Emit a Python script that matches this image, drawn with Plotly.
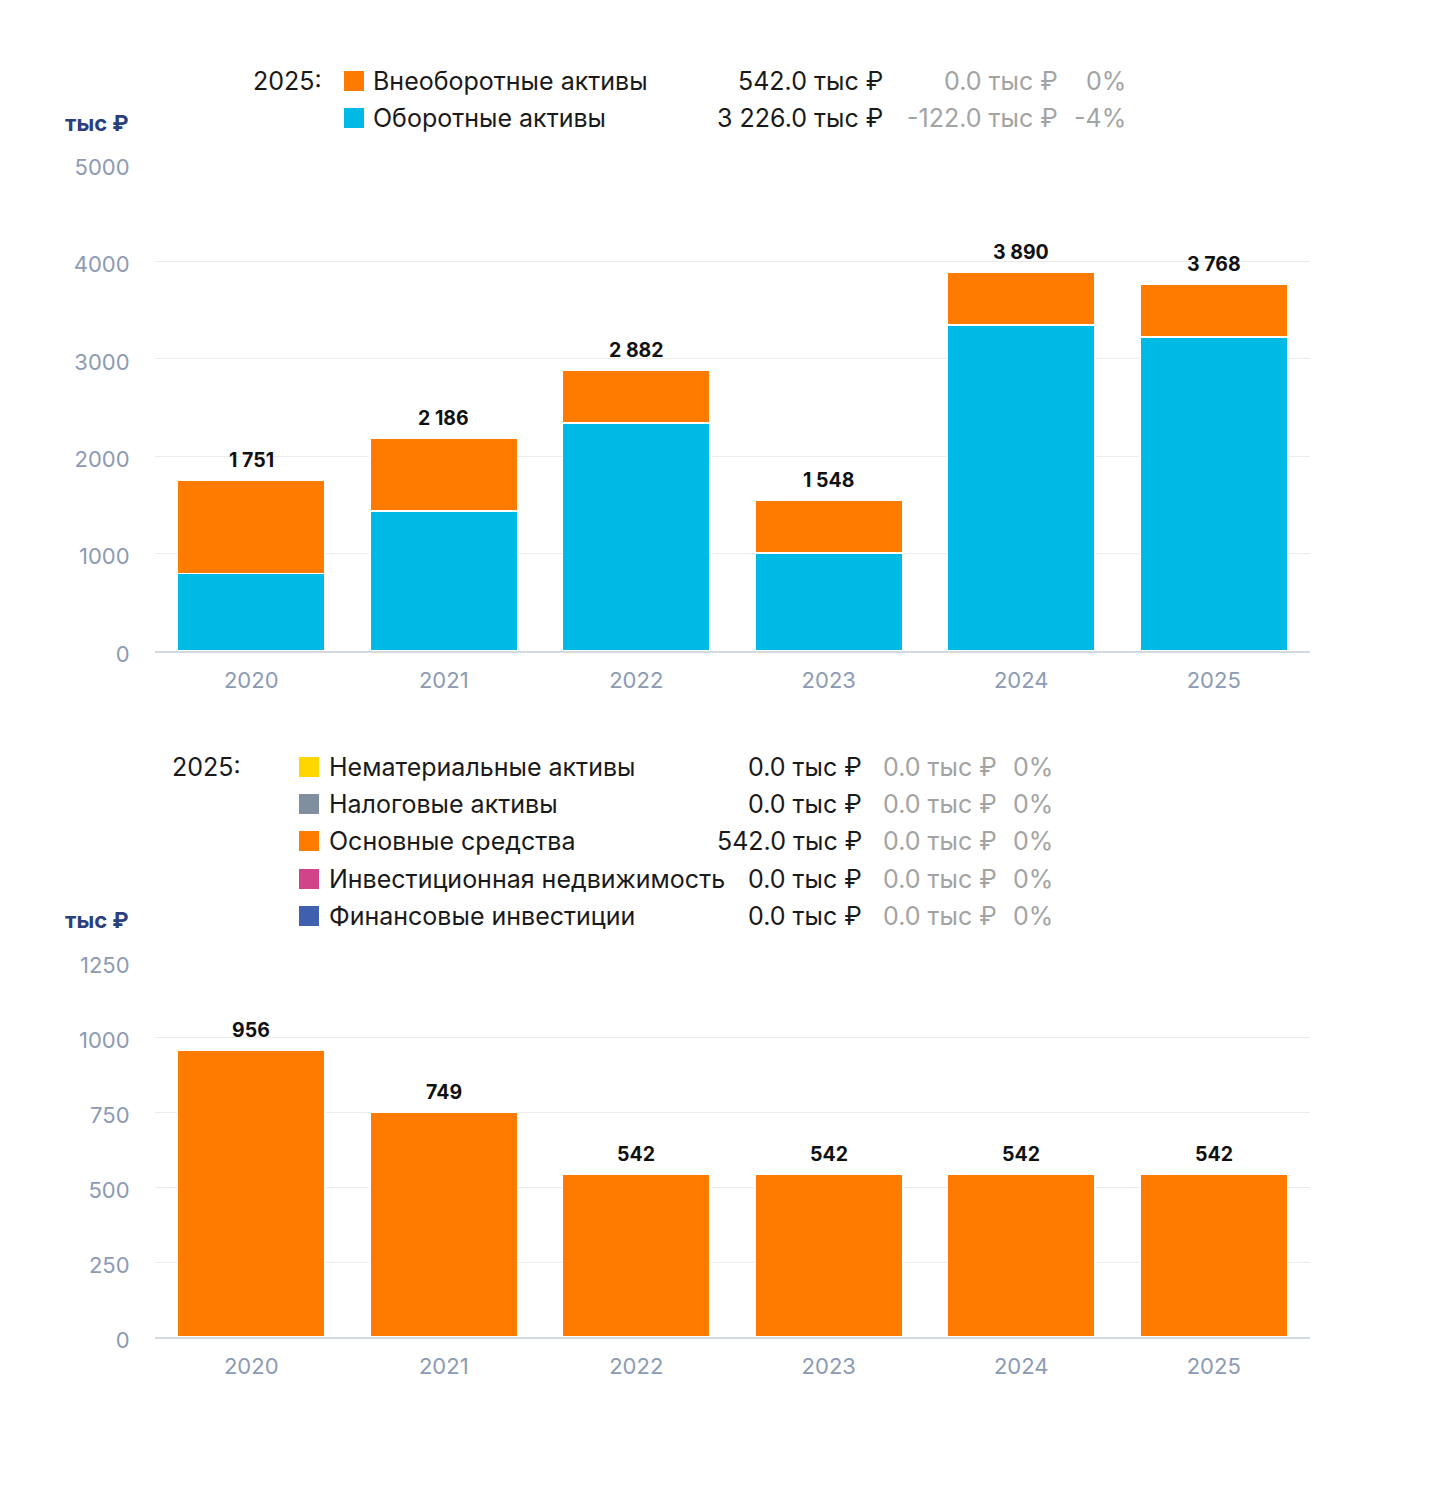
import plotly.graph_objects as go

years = ["2020", "2021", "2022", "2023", "2024", "2025"]

# Top chart: balance-sheet assets (тыс ₽)
current_assets = [795, 1437, 2340, 1006, 3348, 3226]
noncurrent_assets = [956, 749, 542, 542, 542, 542]
top_names = ["Внеоборотные активы", "Оборотные активы"]
top_colors = ["#FF7B00", "#00BAE6"]

# Bottom chart: non-current assets breakdown (тыс ₽)
intangible = [0, 0, 0, 0, 0, 0]
tax_assets = [0, 0, 0, 0, 0, 0]
fixed_assets = [956, 749, 542, 542, 542, 542]
inv_property = [0, 0, 0, 0, 0, 0]
fin_invest = [0, 0, 0, 0, 0, 0]
bottom_names = ["Нематериальные активы", "Налоговые активы", "Основные средства",
                "Инвестиционная недвижимость", "Финансовые инвестиции"]
bottom_colors = ["#FFD600", "#7F8FA0", "#FF7B00", "#D2448A", "#3F5FAF"]

W, H = 1446, 1500
FONT = "Inter"
TICK_COLOR = "#8C9AB4"
GRID = "#EBEBEB"
xpos = list(range(len(years)))


def px(x):
    return x / W


def py(y):
    return 1 - y / H


def fmt_int(v):
    return f"{v:,.0f}".replace(",", " ")


def fmt_val(v):
    return f"{v:,.1f}".replace(",", " ") + " тыс ₽"


def pct(cur, prev):
    if prev == 0:
        return "0%"
    return f"{round((cur - prev) / prev * 100):.0f}%"


fig = go.Figure()

BAR_W = 0.764

# Top stacked bars (current on bottom, non-current on top)
fig.add_trace(go.Bar(x=xpos, y=current_assets, name=top_names[1], width=BAR_W,
                     marker=dict(color=top_colors[1], line=dict(color="white", width=1.5)),
                     xaxis="x", yaxis="y", hoverinfo="skip"))
fig.add_trace(go.Bar(x=xpos, y=noncurrent_assets, name=top_names[0], width=BAR_W,
                     marker=dict(color=top_colors[0], line=dict(color="white", width=1.5)),
                     xaxis="x", yaxis="y", hoverinfo="skip"))

bottom_series = [intangible, tax_assets, fixed_assets, inv_property, fin_invest]
for name, col, vals in zip(bottom_names, bottom_colors, bottom_series):
    fig.add_trace(go.Bar(x=xpos, y=vals, name=name, width=BAR_W,
                         marker=dict(color=col, line=dict(color="white", width=1.5)),
                         xaxis="x2", yaxis="y2", hoverinfo="skip"))

annotations = []
shapes = []
ANN = dict(showarrow=False, borderpad=0, borderwidth=0)

# Totals above bars
top_totals = [a + b for a, b in zip(current_assets, noncurrent_assets)]
for xi, t in zip(xpos, top_totals):
    annotations.append(dict(x=xi, y=t, xref="x", yref="y", text=f"<b>{fmt_int(t)}</b>",
                            yanchor="bottom", yshift=8,
                            font=dict(family=FONT, size=19.5, color="#111111"), **ANN))
bottom_totals = [sum(v) for v in zip(*bottom_series)]
for xi, t in zip(xpos, bottom_totals):
    annotations.append(dict(x=xi, y=t, xref="x2", yref="y2", text=f"<b>{fmt_int(t)}</b>",
                            yanchor="bottom", yshift=8,
                            font=dict(family=FONT, size=19.5, color="#111111"), **ANN))

# Axis unit labels
for yy in (123, 920):
    annotations.append(dict(x=px(129), y=py(yy), xref="paper", yref="paper",
                            text="<b>тыс ₽</b>", xanchor="right", yanchor="middle",
                            font=dict(family=FONT, size=22, color="#2B3F7E"), **ANN))

LEG_SIZE = 25


def legend_block(label_x_year, sq_x, lbl_x, val_x, dlt_x, pct_x, rows_y, names, colors, series):
    annotations.append(dict(x=px(label_x_year[0]), y=py(rows_y[0]), xref="paper", yref="paper",
                            text=years[-1] + ":", xanchor=label_x_year[1],
                            yanchor="middle", font=dict(family=FONT, size=LEG_SIZE, color="#1A1A1A"),
                            **ANN))
    for yy, name, col, vals in zip(rows_y, names, colors, series):
        cur, prev = vals[-1], vals[-2]
        shapes.append(dict(type="rect", xref="paper", yref="paper",
                           x0=px(sq_x), x1=px(sq_x + 20), y0=py(yy + 10), y1=py(yy - 10),
                           fillcolor=col, line=dict(width=0)))
        annotations.append(dict(x=px(lbl_x), y=py(yy), xref="paper", yref="paper", text=name,
                                xanchor="left", yanchor="middle",
                                font=dict(family=FONT, size=LEG_SIZE, color="#1A1A1A"), **ANN))
        annotations.append(dict(x=px(val_x), y=py(yy), xref="paper", yref="paper", text=fmt_val(cur),
                                xanchor="right", yanchor="middle",
                                font=dict(family=FONT, size=LEG_SIZE, color="#1A1A1A"), **ANN))
        annotations.append(dict(x=px(dlt_x), y=py(yy), xref="paper", yref="paper",
                                text=fmt_val(cur - prev), xanchor="right", yanchor="middle",
                                font=dict(family=FONT, size=LEG_SIZE, color="#A3A3A3"), **ANN))
        annotations.append(dict(x=px(pct_x), y=py(yy), xref="paper", yref="paper",
                                text=pct(cur, prev), xanchor="right", yanchor="middle",
                                font=dict(family=FONT, size=LEG_SIZE, color="#A3A3A3"), **ANN))


legend_block((322, "right"), 344, 373, 883, 1058, 1126, [81, 118],
             top_names, top_colors, [noncurrent_assets, current_assets])
legend_block((172, "left"), 299, 329, 862, 997, 1053, [767, 804, 841, 879, 916],
             bottom_names, bottom_colors, bottom_series)

xdom = [px(155), px(1310)]
axis_common_y = dict(type="linear", gridcolor=GRID, gridwidth=1, zeroline=False, showline=False,
                     tickfont=dict(family=FONT, size=22, color=TICK_COLOR),
                     ticks="outside", ticklen=20, tickcolor="rgba(0,0,0,0)",
                     ticklabelshift=3,
                     fixedrange=True, automargin=False)
axis_common_x = dict(type="linear", range=[-0.5, len(years) - 0.5],
                     tickvals=xpos, ticktext=years,
                     showgrid=False, zeroline=False, showline=True, linecolor="#D5DAE2",
                     linewidth=1.5, tickfont=dict(family=FONT, size=22, color=TICK_COLOR),
                     ticks="outside", ticklen=9, tickcolor="rgba(0,0,0,0)",
                     fixedrange=True, automargin=False)

fig.update_layout(
    width=W, height=H,
    margin=dict(l=0, r=0, t=0, b=0),
    paper_bgcolor="white", plot_bgcolor="white",
    barmode="stack",
    showlegend=False,
    font=dict(family=FONT),
    xaxis=dict(domain=xdom, anchor="y", **axis_common_x),
    yaxis=dict(domain=[py(651), py(164)], anchor="x", range=[0, 5000],
               tickvals=[0, 1000, 2000, 3000, 4000, 5000], **axis_common_y),
    xaxis2=dict(domain=xdom, anchor="y2", **axis_common_x),
    yaxis2=dict(domain=[py(1337), py(962)], anchor="x2", range=[0, 1250],
                tickvals=[0, 250, 500, 750, 1000, 1250], **axis_common_y),
    annotations=annotations,
    shapes=shapes,
)

fig.write_html("out.html")
